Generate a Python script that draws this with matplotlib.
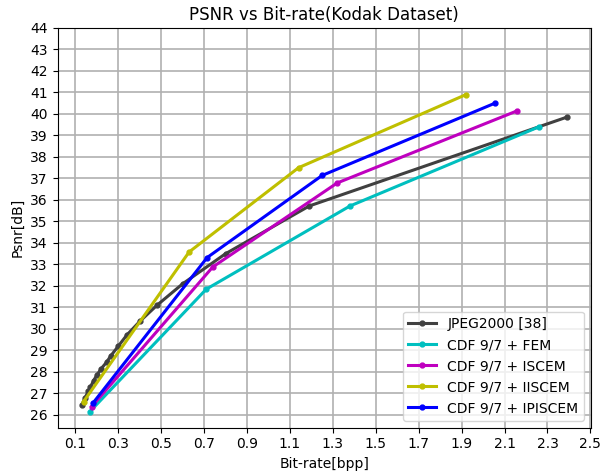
import numpy as np
import matplotlib
matplotlib.use("Agg")
import matplotlib.pyplot as plt

# bit-rate [bpp] / psnr [dB]
jpeg_x = [0.13, 0.145, 0.16, 0.17, 0.185, 0.2, 0.22, 0.245, 0.265, 0.3,
          0.34, 0.4, 0.48, 0.6, 0.8, 1.19, 2.39]
jpeg_y = [26.45, 26.8, 27.1, 27.3, 27.6, 27.85, 28.15, 28.45, 28.75, 29.2,
          29.72, 30.35, 31.1, 32.1, 33.5, 35.72, 39.85]

fem_x = [0.167, 0.71, 1.38, 2.26]
fem_y = [26.15, 31.85, 35.72, 39.4]

iscem_x = [0.176, 0.74, 1.32, 2.16]
iscem_y = [26.39, 32.88, 36.79, 40.15]

iiscem_x = [0.138, 0.63, 1.14, 1.92]
iiscem_y = [26.62, 33.58, 37.5, 40.9]

ipiscem_x = [0.181, 0.714, 1.25, 2.055]
ipiscem_y = [26.54, 33.32, 37.14, 40.5]

fig, ax = plt.subplots(figsize=(6, 4.74), dpi=100)
fig.subplots_adjust(left=0.096, right=0.985, top=0.941, bottom=0.098)

ax.plot(jpeg_x, jpeg_y, '.-', color='#404040', lw=2.2, ms=7, label='JPEG2000 [38]')
ax.plot(fem_x, fem_y, '.-', color='c', lw=2.2, ms=7, label='CDF 9/7 + FEM')
ax.plot(iscem_x, iscem_y, '.-', color='m', lw=2.2, ms=7, label='CDF 9/7 + ISCEM')
ax.plot(iiscem_x, iiscem_y, '.-', color='y', lw=2.2, ms=7, label='CDF 9/7 + IISCEM')
ax.plot(ipiscem_x, ipiscem_y, '.-', color='b', lw=2.2, ms=7, label='CDF 9/7 + IPISCEM')

ax.set_xticks(np.round(np.arange(0.1, 2.51, 0.2), 1))
ax.set_yticks(np.arange(26, 45, 1))
ax.grid(True, color='#b0b0b0', lw=1.2)
ax.set_title('PSNR vs Bit-rate(Kodak Dataset)')
ax.set_xlabel('Bit-rate[bpp]')
ax.set_ylabel('Psnr[dB]')
ax.legend(loc='lower right')

fig.savefig('out.png', dpi=100)
